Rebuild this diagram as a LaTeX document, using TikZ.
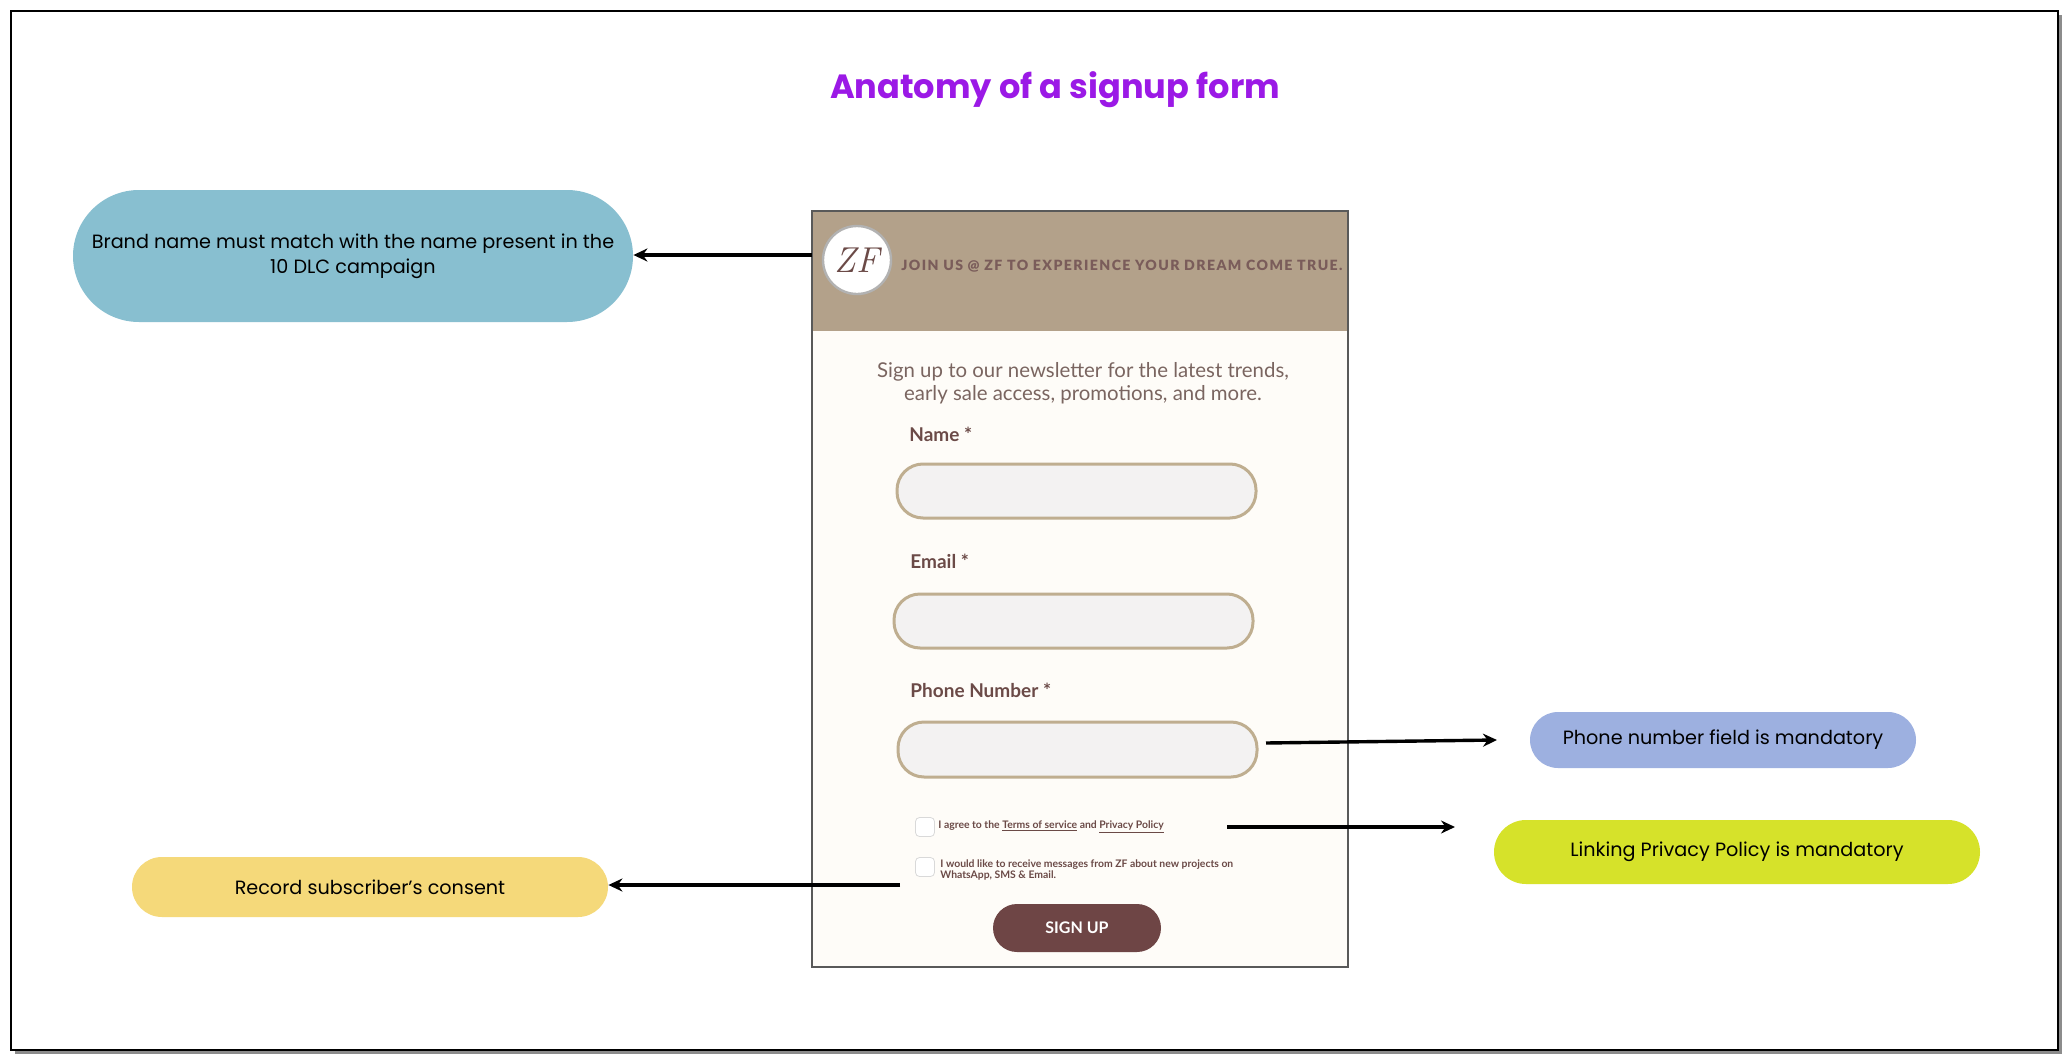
\documentclass[tikz,border=0pt]{standalone}
\usepackage{fontspec}
\setmainfont{Poppins}
\newfontfamily\formfont{Lato}
\newfontfamily\headfont[LetterSpace=10]{Lato Black}
\usetikzlibrary{arrows.meta}
\definecolor{titlec}{HTML}{9B19E6}
\definecolor{bluec}{HTML}{88BFD0}
\definecolor{periw}{HTML}{9DB0E0}
\definecolor{limec}{HTML}{D6E22A}
\definecolor{yelc}{HTML}{F5D97A}
\definecolor{headc}{HTML}{B3A18A}
\definecolor{bodyc}{HTML}{FEFCF8}
\definecolor{brownt}{HTML}{6B4A47}
\definecolor{greyt}{HTML}{7A6560}
\definecolor{fieldb}{HTML}{BFAE90}
\definecolor{fieldf}{HTML}{F3F2F2}
\definecolor{btnc}{HTML}{6E4545}
\begin{document}
\begin{tikzpicture}[x=0.5pt,y=-0.5pt,
  callout/.style={inner sep=0pt,font=\fontsize{9.6}{12.5}\selectfont,align=center},
  field/.style={draw=fieldb,line width=1.5pt,fill=fieldf,rounded corners=13pt},
  lab/.style={anchor=west,text=brownt,font=\formfont\bfseries\fontsize{9.5}{11}\selectfont,inner sep=0pt},
  arr/.style={-{Stealth[length=7pt,width=6.5pt]},line width=1.7pt},
  cbox/.style={draw=gray!30,fill=white,rounded corners=2pt,minimum size=9.5pt,inner sep=0pt},
  small/.style={anchor=west,text=brownt,font=\formfont\bfseries\fontsize{5.2}{5.2}\selectfont,inner sep=0pt,align=left}]
\useasboundingbox (0,0) rectangle (2068,1060);
\fill[white] (0,0) rectangle (2068,1060);
\fill[black!45] (15,15) rectangle (2062,1054);
\draw[fill=white,line width=1pt] (11,11) rectangle (2058,1050);
\node[text=titlec,font=\bfseries\fontsize{16.8}{20}\selectfont] (title) at (1055,90) {Anatomy of a signup form};
% callouts
\node[callout,fill=bluec,minimum width=280pt,minimum height=66pt,rounded corners=33pt] (brand) at (353,256) {Brand name must match with the name present in the\\10 DLC campaign};
\node[callout,fill=periw,minimum width=193pt,minimum height=28pt,rounded corners=14pt] (phonec) at (1723,740) {Phone number field is mandatory};
\node[callout,fill=limec,minimum width=243pt,minimum height=32pt,rounded corners=16pt] (privc) at (1737,852) {Linking Privacy Policy is mandatory};
\node[callout,fill=yelc,minimum width=238pt,minimum height=30pt,rounded corners=15pt] (consc) at (370,887) {Record subscriber’s consent};
% form
\fill[bodyc] (812,211) rectangle (1348,967);
\fill[headc] (812,211) rectangle (1348,331);
\draw[gray!70!black,line width=0.8pt] (812,211) rectangle (1348,967);
\coordinate (formL) at (812,255);
\node[circle,draw=gray!60,line width=1.2pt,fill=white,minimum size=34pt,inner sep=0pt,text=brownt] (logo) at (857,260) {\fontspec{Latin Modern Roman}\itshape\fontsize{18}{18}\selectfont ZF};
\node[anchor=west,inner sep=0pt,text=brownt!90,font=\headfont\fontsize{7.05}{8}\selectfont] (head) at (901,266) {JOIN US @ ZF TO EXPERIENCE YOUR DREAM COME TRUE.};
\node[text=greyt,align=center,font=\formfont\fontsize{10.2}{11.6}\selectfont] (intro) at (1083,383) {Sign up to our newsletter for the latest trends,\\early sale access, promotions, and more.};
\node[lab] (namel) at (909,434) {Name *};
\draw[field] (897,464) rectangle (1256,518);
\node[lab] (emaill) at (910,561) {Email *};
\draw[field] (894,594) rectangle (1253,648);
\node[lab] (phonel) at (910,690) {Phone Number *};
\draw[field] (898,722) rectangle (1257,777);
\coordinate (phoneR) at (1266,743);
\node[cbox] (cb1) at (925,827) {};
\node[small] (agree) at (938,827) {I agree to the \underline{Terms of service} and \underline{Privacy Policy}};
\coordinate (agreeR) at (1227,827);
\node[cbox] (cb2) at (925,867) {};
\node[small] (msg) at (940,870) {I would like to receive messages from ZF about new projects on\\WhatsApp, SMS \& Email.};
\coordinate (consL) at (900,885);
\node[fill=btnc,rounded corners=12pt,minimum width=84pt,minimum height=24pt,text=white,font=\formfont\bfseries\fontsize{8}{9}\selectfont] (btn) at (1077,928) {SIGN UP};
% arrows
\draw[arr] (formL) -- (brand.east |- formL);
\draw[arr] (phoneR) -- (1497,740);
\draw[arr] (agreeR) -- (1455,827);
\draw[arr] (consL) -- (consc.east |- consL);
\end{tikzpicture}
\end{document}
